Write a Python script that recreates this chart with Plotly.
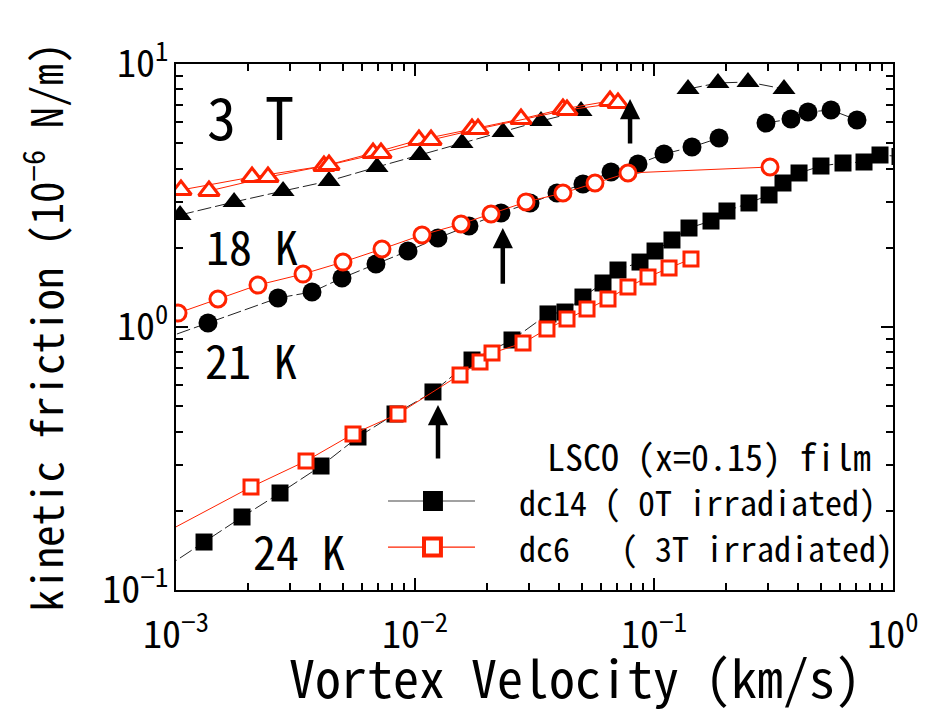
import math
import plotly.graph_objects as go

# ---------------- data ----------------
# 18 K, dc14 (black triangles)
t18_dc14_x = [0.00104, 0.00175, 0.002805, 0.004367, 0.006935, 0.01049, 0.01573, 0.02334, 0.03367, 0.04951]
t18_dc14_y = [2.666, 2.988, 3.290, 3.591, 4.058, 4.508, 5.006, 5.512, 6.072, 6.627]
t18_dc14_hi_x = [0.1388, 0.1852, 0.2473, 0.3499]
t18_dc14_hi_y = [8.034, 8.469, 8.543, 8.034]
# 18 K, dc6 (red open triangles, two sweeps)
t18_dc6a_x = [0.001049, 0.00208, 0.00416, 0.006674, 0.01039, 0.01732, 0.02777, 0.0416, 0.06546]
t18_dc6a_y = [3.318, 3.718, 4.094, 4.588, 5.141, 5.660, 6.179, 6.744, 7.234]
t18_dc6b_x = [0.001374, 0.002426, 0.004367, 0.007206, 0.01167, 0.01835, 0.04325, 0.07069]
t18_dc6b_y = [3.290, 3.718, 4.130, 4.588, 5.141, 5.660, 6.685, 7.109]

# 21 K, dc14 (black circles)
t21_dc14_x = [0.000857, 0.001361, 0.002672, 0.003707, 0.00495, 0.006866, 0.009348, 0.01248, 0.01682,
              0.0229, 0.03029, 0.03927, 0.05044, 0.06609, 0.08571, 0.1101, 0.1442, 0.1871]
t21_dc14_y = [0.892, 1.036, 1.289, 1.359, 1.536, 1.736, 1.945, 2.180, 2.421,
              2.714, 2.962, 3.232, 3.497, 3.885, 4.167, 4.548, 4.835, 5.230]
t21_dc14_hi_x = [0.2941, 0.3742, 0.4409, 0.5503, 0.7068]
t21_dc14_hi_y = [5.967, 6.179, 6.569, 6.685, 6.125]
# 21 K, dc6 (red open circles)
t21_dc6_x = [0.00102, 0.001498, 0.002203, 0.0034, 0.004996, 0.007275, 0.0107, 0.01558, 0.0208,
             0.02914, 0.0416, 0.05664, 0.07783, 0.3058]
t21_dc6_y = [1.130, 1.278, 1.444, 1.590, 1.766, 1.980, 2.238, 2.464, 2.690,
             2.988, 3.232, 3.528, 3.851, 4.058]

# 24 K, dc14 (black squares)
t24_dc14_x = [0.000899, 0.00131, 0.001889, 0.002724, 0.004044, 0.005774, 0.008248, 0.01189, 0.01732,
              0.02546, 0.03601, 0.04242, 0.05044, 0.06118, 0.07069, 0.08738, 0.101, 0.1189, 0.1401,
              0.1732, 0.202, 0.2497, 0.3029, 0.3465, 0.4044, 0.4996, 0.6177, 0.7563, 0.8823, 1.07]
t24_dc14_y = [0.1213, 0.1522, 0.1895, 0.2338, 0.2961, 0.3817, 0.4669, 0.5662, 0.749,
              0.8925, 1.121, 1.140, 1.300, 1.470, 1.647, 1.766, 1.945, 2.142, 2.379,
              2.529, 2.761, 2.962, 3.177, 3.528, 3.851, 4.094, 4.203, 4.240, 4.508, 4.45]
# 24 K, dc6 (red open squares)
t24_dc6_x = [0.000707, 0.00206, 0.003499, 0.005503, 0.008488, 0.01543, 0.01871, 0.021, 0.02831,
             0.03566, 0.04325, 0.05245, 0.0642, 0.07783, 0.09438, 0.1156, 0.1428]
t24_dc6_y = [0.147, 0.2464, 0.3094, 0.3918, 0.4669, 0.6571, 0.7359, 0.7963, 0.8694,
             0.9826, 1.073, 1.171, 1.278, 1.419, 1.549, 1.676, 1.814]

# arrows (x, y_tail, y_head)
arrow_x = [0.0794, 0.0233, 0.01248]
arrow_y_tail = [4.92, 1.44, 0.312]
arrow_y_head = [7.36, 2.38, 0.505]

x_tickvals = [0.001, 0.01, 0.1, 1]
x_ticktext = ["10<sup>\u22123</sup>", "10<sup>\u22122</sup>", "10<sup>\u22121</sup>", "10<sup>0</sup>"]
y_tickvals = [0.1, 1, 10]
y_ticktext = ["10<sup>\u22121</sup>", "10<sup>0</sup>", "10<sup>1</sup>"]

# ---------------- style ----------------
FONT = "Noto Sans Mono CJK JP, Noto Sans CJK JP, sans-serif"
RED = "#ff2200"
BLACK = "#000000"
BLACK_LINE = dict(color="#222222", width=1, dash="14px,4px")
RED_LINE = dict(color=RED, width=1)

fig = go.Figure()


def black_trace(x, y, symbol, size):
    fig.add_trace(go.Scatter(
        x=x, y=y, mode="lines+markers", line=BLACK_LINE,
        marker=dict(symbol=symbol, size=size, color=BLACK, line=dict(width=0)),
        showlegend=False, cliponaxis=True))


def red_trace(x, y, symbol, size):
    fig.add_trace(go.Scatter(
        x=x, y=y, mode="lines+markers", line=RED_LINE,
        marker=dict(symbol=symbol, size=size, color="white", line=dict(width=3, color=RED)),
        showlegend=False, cliponaxis=True))


black_trace(t18_dc14_x, t18_dc14_y, "triangle-up", 20)
black_trace(t18_dc14_hi_x, t18_dc14_hi_y, "triangle-up", 20)
black_trace(t21_dc14_x, t21_dc14_y, "circle", 19)
black_trace(t21_dc14_hi_x, t21_dc14_hi_y, "circle", 19)
black_trace(t24_dc14_x, t24_dc14_y, "square", 17)

red_trace(t18_dc6a_x, t18_dc6a_y, "triangle-up", 18)
red_trace(t18_dc6b_x, t18_dc6b_y, "triangle-up", 18)
red_trace(t21_dc6_x, t21_dc6_y, "circle", 16)
red_trace(t24_dc6_x, t24_dc6_y, "square", 14)

annotations = []
for ax_, yt, yh in zip(arrow_x, arrow_y_tail, arrow_y_head):
    annotations.append(dict(
        x=math.log10(ax_), y=math.log10(yh), ax=math.log10(ax_), ay=math.log10(yt),
        xref="x", yref="y", axref="x", ayref="y", text="", showarrow=True,
        arrowhead=2, arrowsize=0.9, arrowwidth=4.5, arrowcolor=BLACK, standoff=0, startstandoff=0))


def label(text, x, y, size, xanchor="center"):
    annotations.append(dict(text=text, x=x, y=y, xref="paper", yref="paper",
                            xanchor=xanchor, yanchor="middle", showarrow=False,
                            font=dict(family=FONT, size=size, color=BLACK)))


label("3 T", 0.1046, 0.903, 58)
label("18 K", 0.106, 0.656, 46)
label("21 K", 0.1046, 0.439, 46)
label("24 K", 0.1715, 0.076, 46)
label("LSCO (x=0.15) film", 0.972, 0.2567, 36, xanchor="right")
label("dc14 ( 0T irradiated)", 0.4756, 0.1692, 34, xanchor="left")
label("dc6\u00a0\u00a0\u00a0( 3T irradiated)", 0.4756, 0.0817, 34, xanchor="left")
# x-axis title (placed right of centre, as in the original)
label("Vortex Velocity (km/s)", 0.5565, -0.163, 52)

shapes = [
    dict(type="line", xref="paper", yref="paper", x0=0.2957, x1=0.417, y0=0.1692, y1=0.1692,
         line=dict(color="#444444", width=1.2)),
    dict(type="rect", xref="paper", yref="paper", x0=0.3584 - 0.0139, x1=0.3584 + 0.0139,
         y0=0.1692 - 0.019, y1=0.1692 + 0.019, line=dict(width=0), fillcolor=BLACK),
    dict(type="line", xref="paper", yref="paper", x0=0.2957, x1=0.417, y0=0.0817, y1=0.0817,
         line=dict(color=RED, width=1.2)),
    dict(type="rect", xref="paper", yref="paper", x0=0.3577 - 0.0118, x1=0.3577 + 0.0118,
         y0=0.0817 - 0.0162, y1=0.0817 + 0.0162, line=dict(width=4, color=RED), fillcolor="white"),
]

minor_x = [m * v for v in [0.001, 0.01, 0.1] for m in range(2, 10)]
minor_y = [m * v for v in [0.1, 1] for m in range(2, 10)]

axis_common = dict(
    type="log", showgrid=False, zeroline=False, showline=True, linewidth=2, linecolor=BLACK,
    mirror="allticks", ticks="inside", ticklen=12, tickwidth=2, tickcolor=BLACK,
    tickfont=dict(family=FONT, size=38, color=BLACK),
)

fig.update_layout(
    width=938, height=713,
    margin=dict(l=176, r=45, t=64, b=123),
    paper_bgcolor="white", plot_bgcolor="white",
    showlegend=False,
    xaxis=dict(**axis_common, range=[-3, 0], tickmode="array", tickvals=x_tickvals, ticktext=x_ticktext,
               ticklabelstandoff=10,
               minor=dict(tickmode="array", tickvals=minor_x, ticks="inside", ticklen=7, tickwidth=1.5,
                          tickcolor=BLACK, showgrid=False)),
    yaxis=dict(**axis_common, range=[-1, 1], tickmode="array", tickvals=y_tickvals, ticktext=y_ticktext,
               ticklabelstandoff=-2,
               minor=dict(tickmode="array", tickvals=minor_y, ticks="inside", ticklen=7, tickwidth=1.5,
                          tickcolor=BLACK, showgrid=False),
               title=dict(text="kinetic friction (10<sup>\u22126</sup> N/m)",
                          font=dict(family=FONT, size=43, color=BLACK), standoff=25)),
    annotations=annotations,
    shapes=shapes,
)

fig.write_html("out.html")
